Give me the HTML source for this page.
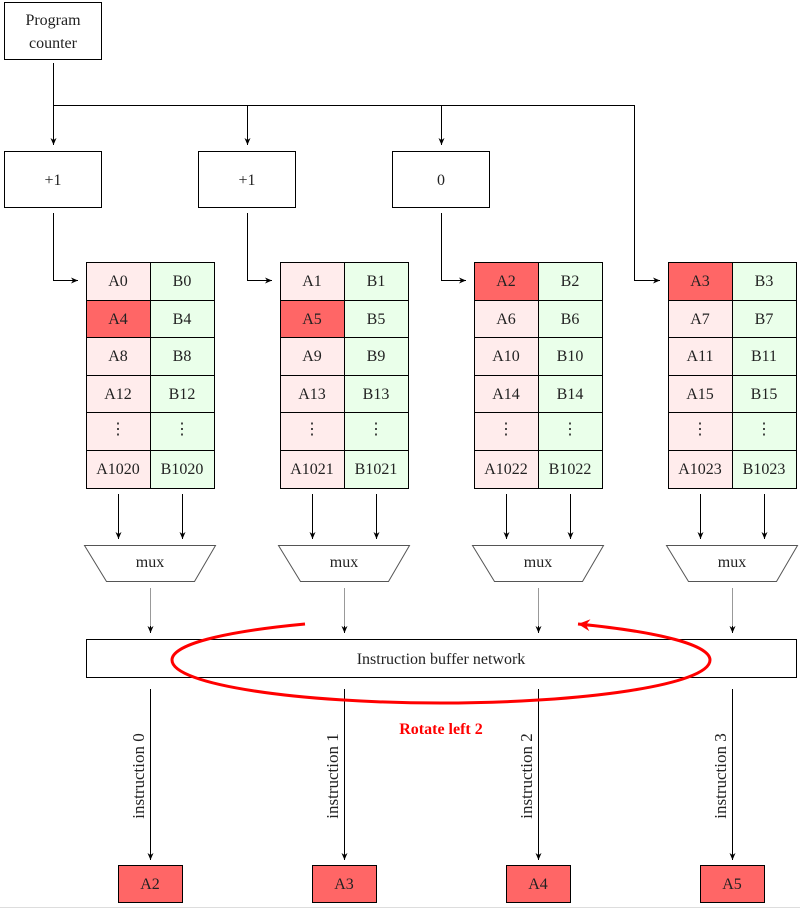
<!DOCTYPE html>
<html><head><meta charset="utf-8"><style>
html,body{margin:0;padding:0;background:#fff}
svg{display:block}
text{font-family:"Liberation Serif",serif;font-size:16px;fill:#222}
</style></head><body>
<svg width="800" height="908" viewBox="0 0 800 908" xmlns="http://www.w3.org/2000/svg">
<defs>
<marker id="ar" markerWidth="8" markerHeight="8" refX="7" refY="4" orient="auto" markerUnits="userSpaceOnUse"><path d="M0,1 L7,4 L0,7 L2,4 Z" fill="#000"/></marker>
<marker id="rr" markerWidth="14" markerHeight="14" refX="12" refY="7" orient="auto" markerUnits="userSpaceOnUse"><path d="M0,1 L12,7 L0,13 L4,7 Z" fill="red"/></marker>
</defs>
<g stroke="#000" stroke-width="1" fill="none">
<rect x="4.5" y="2.5" width="97" height="57"/>
<rect x="4.5" y="151.5" width="97" height="56"/>
<rect x="198.5" y="151.5" width="97" height="56"/>
<rect x="392.5" y="151.5" width="97" height="56"/>
<path d="M53.5 63V145" marker-end="url(#ar)"/>
<path d="M53.5 105.5H634.5V280.5H660" marker-end="url(#ar)"/>
<path d="M247.5 105.5V145" marker-end="url(#ar)"/>
<path d="M441.5 105.5V145" marker-end="url(#ar)"/>
<path d="M53.5 213V280.5H78" marker-end="url(#ar)"/>
<path d="M247.5 213V280.5H272" marker-end="url(#ar)"/>
<path d="M441.5 213V280.5H466" marker-end="url(#ar)"/>
</g>
<text x="53" y="25" text-anchor="middle">Program</text>
<text x="53" y="48" text-anchor="middle">counter</text>
<text x="53" y="185" text-anchor="middle">+1</text>
<text x="247" y="185" text-anchor="middle">+1</text>
<text x="441" y="185" text-anchor="middle">0</text>

<g stroke="#000" stroke-width="1">
<rect x="86.5" y="262.5" width="64" height="226" fill="#ffecec"/><rect x="150.5" y="262.5" width="64" height="226" fill="#eaffea"/>
<rect x="86.5" y="300.5" width="64" height="37" fill="#ff6666"/>
<rect x="280.5" y="262.5" width="64" height="226" fill="#ffecec"/><rect x="344.5" y="262.5" width="64" height="226" fill="#eaffea"/>
<rect x="280.5" y="300.5" width="64" height="37" fill="#ff6666"/>
<rect x="474.5" y="262.5" width="64" height="226" fill="#ffecec"/><rect x="538.5" y="262.5" width="64" height="226" fill="#eaffea"/>
<rect x="474.5" y="262.5" width="64" height="38" fill="#ff6666"/>
<rect x="668.5" y="262.5" width="64" height="226" fill="#ffecec"/><rect x="732.5" y="262.5" width="64" height="226" fill="#eaffea"/>
<rect x="668.5" y="262.5" width="64" height="38" fill="#ff6666"/>
<path d="M86 300.5H215M86 337.5H215M86 375.5H215M86 412.5H215M86 450.5H215
M280 300.5H409M280 337.5H409M280 375.5H409M280 412.5H409M280 450.5H409
M474 300.5H603M474 337.5H603M474 375.5H603M474 412.5H603M474 450.5H603
M668 300.5H797M668 337.5H797M668 375.5H797M668 412.5H797M668 450.5H797" fill="none"/>
</g>
<g text-anchor="middle">
<text x="118" y="286">A0</text><text x="182" y="286">B0</text>
<text x="118" y="324">A4</text><text x="182" y="324">B4</text>
<text x="118" y="361">A8</text><text x="182" y="361">B8</text>
<text x="118" y="399">A12</text><text x="182" y="399">B12</text>
<text x="118" y="434">⋮</text><text x="182" y="434">⋮</text>
<text x="118" y="474">A1020</text><text x="182" y="474">B1020</text>
<text x="312" y="286">A1</text><text x="376" y="286">B1</text>
<text x="312" y="324">A5</text><text x="376" y="324">B5</text>
<text x="312" y="361">A9</text><text x="376" y="361">B9</text>
<text x="312" y="399">A13</text><text x="376" y="399">B13</text>
<text x="312" y="434">⋮</text><text x="376" y="434">⋮</text>
<text x="312" y="474">A1021</text><text x="376" y="474">B1021</text>
<text x="506" y="286">A2</text><text x="570" y="286">B2</text>
<text x="506" y="324">A6</text><text x="570" y="324">B6</text>
<text x="506" y="361">A10</text><text x="570" y="361">B10</text>
<text x="506" y="399">A14</text><text x="570" y="399">B14</text>
<text x="506" y="434">⋮</text><text x="570" y="434">⋮</text>
<text x="506" y="474">A1022</text><text x="570" y="474">B1022</text>
<text x="700" y="286">A3</text><text x="764" y="286">B3</text>
<text x="700" y="324">A7</text><text x="764" y="324">B7</text>
<text x="700" y="361">A11</text><text x="764" y="361">B11</text>
<text x="700" y="399">A15</text><text x="764" y="399">B15</text>
<text x="700" y="434">⋮</text><text x="764" y="434">⋮</text>
<text x="700" y="474">A1023</text><text x="764" y="474">B1023</text>
</g>

<g stroke="#000" fill="none" marker-end="url(#ar)">
<path d="M118.5 494V539"/><path d="M182.5 494V539"/>
<path d="M312.5 494V539"/><path d="M376.5 494V539"/>
<path d="M506.5 494V539"/><path d="M570.5 494V539"/>
<path d="M700.5 494V539"/><path d="M764.5 494V539"/>
</g>
<g stroke="#555" fill="none">
<path d="M84.5 545.5H215.5L194.5 581.5H106.5Z"/>
<path d="M278.5 545.5H409.5L388.5 581.5H300.5Z"/>
<path d="M472.5 545.5H603.5L582.5 581.5H494.5Z"/>
<path d="M666.5 545.5H797.5L776.5 581.5H688.5Z"/>
</g>
<g text-anchor="middle">
<text x="150" y="567">mux</text><text x="344" y="567">mux</text><text x="538" y="567">mux</text><text x="732" y="567">mux</text>
</g>
<g stroke="#999" fill="none">
<path d="M150.5 588V628M344.5 588V628M538.5 588V628M732.5 588V628"/>
</g>
<g stroke="#000" fill="none" marker-end="url(#ar)">
<path d="M150.5 626V633"/><path d="M344.5 626V633"/><path d="M538.5 626V633"/><path d="M732.5 626V633"/>
<path d="M150.5 689V860"/><path d="M344.5 689V860"/><path d="M538.5 689V860"/><path d="M732.5 689V860"/>
</g>
<rect x="86.5" y="639.5" width="710" height="38" stroke="#000" fill="none"/>
<text x="441" y="664" text-anchor="middle">Instruction buffer network</text>
<path d="M305 624 C 220 632, 172 645, 172 660 C 172 685, 300 703, 441 703 C 582 703, 710 685, 710 660 C 710 645, 660 632, 578 624" stroke="red" stroke-width="3" fill="none" marker-end="url(#rr)"/>
<text x="441" y="734" text-anchor="middle" style="font-weight:bold;fill:red">Rotate left 2</text>
<g style="font-size:17px">
<text transform="translate(144,776) rotate(-90)" text-anchor="middle" style="font-size:17px">instruction 0</text>
<text transform="translate(338,776) rotate(-90)" text-anchor="middle" style="font-size:17px">instruction 1</text>
<text transform="translate(532,776) rotate(-90)" text-anchor="middle" style="font-size:17px">instruction 2</text>
<text transform="translate(726,776) rotate(-90)" text-anchor="middle" style="font-size:17px">instruction 3</text>
</g>
<g stroke="#000" fill="#ff6666">
<rect x="118.5" y="865.5" width="64" height="37"/>
<rect x="312.5" y="865.5" width="64" height="37"/>
<rect x="506.5" y="865.5" width="64" height="37"/>
<rect x="700.5" y="865.5" width="64" height="37"/>
</g>
<g text-anchor="middle">
<text x="150" y="889">A2</text><text x="344" y="889">A3</text><text x="538" y="889">A4</text><text x="732" y="889">A5</text>
</g>
<path d="M0 907.5H800" stroke="#ddd"/>
</svg>
</body></html>
